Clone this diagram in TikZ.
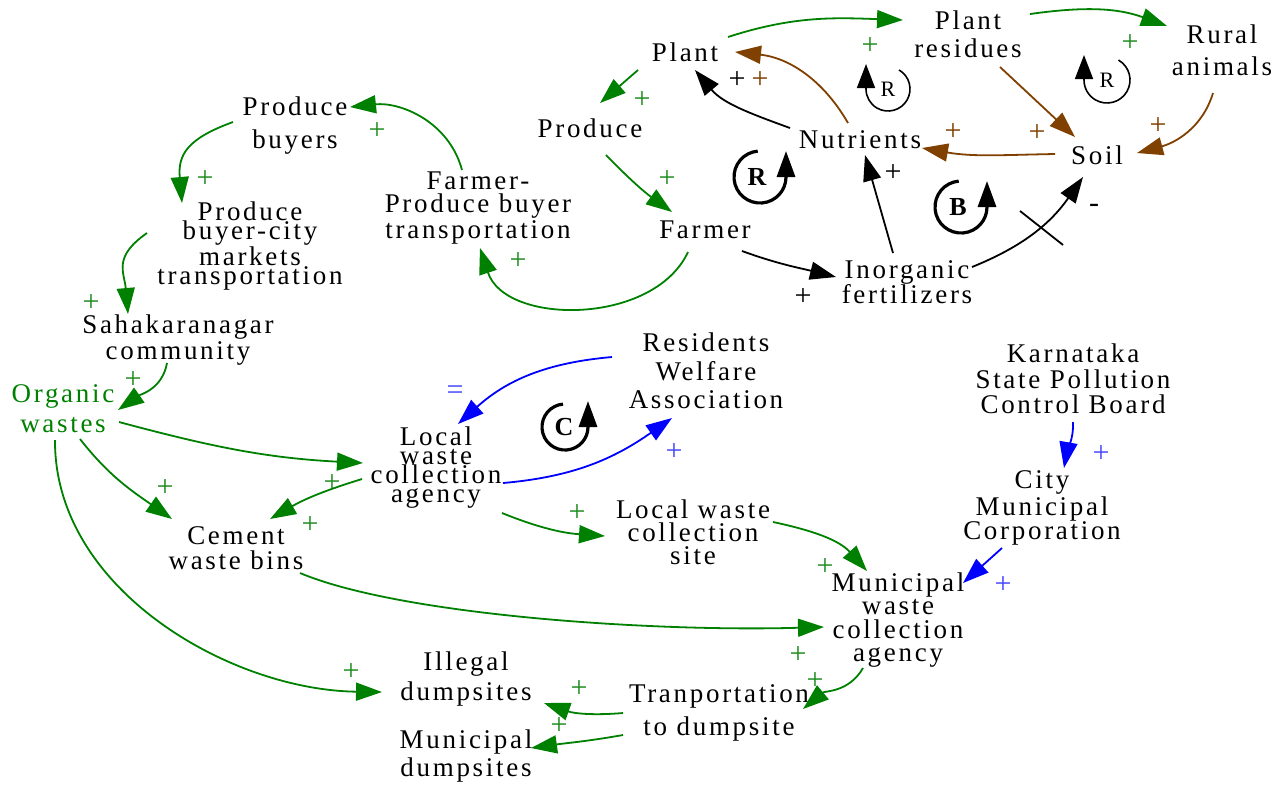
\documentclass[tikz,border=0pt]{standalone}
\usepackage{fontspec}
\setmainfont{Liberation Serif}[LetterSpace=10]
\usetikzlibrary{arrows.meta,calc}

\definecolor{cldgreen}{RGB}{0,128,0}
\definecolor{cldbrown}{RGB}{128,64,0}
\definecolor{cldblue}{RGB}{0,0,255}
\definecolor{signblue}{RGB}{70,70,255}
\definecolor{signgreen}{RGB}{30,140,30}

\tikzset{
  var/.style={align=center, inner sep=0pt, font=\fontsize{13.5}{#1}\selectfont},
  var/.default=14,
  link/.style={-{Triangle[length=13pt,width=9pt]}, line width=0.9pt},
  glink/.style={link, draw=cldgreen},
  klink/.style={link, draw=black},
  blink/.style={link, draw=cldbrown},
  ulink/.style={link, draw=cldblue},
  sign/.style={inner sep=0pt, font=\fontsize{15}{15}\selectfont},
  gsign/.style={sign, text=signgreen},
  ksign/.style={sign, text=black},
  bsign/.style={sign, text=cldbrown},
  usign/.style={sign, text=signblue},
  loopthin/.style={line width=0.8pt, -{Triangle[length=12pt,width=9pt]}},
  loopbold/.style={line width=1.6pt, -{Triangle[length=13pt,width=9pt]}},
}

\begin{document}
\begin{tikzpicture}[x=0.5pt, y=0.5pt]
\useasboundingbox (0,0) rectangle (1288,-784);

% ---------- variables ----------
\node[var] (plant) at (685,-52) {Plant};
\node[var=14] (residues) at (968,-34) {Plant\\residues};
\node[var=16] (rural) at (1222,-50) {Rural\\animals};
\node[var] (produce) at (590,-128) {Produce};
\node[var] (nutrients) at (860,-140) {Nutrients};
\node[var] (soil) at (1097,-155) {Soil};
\node[var] (farmer) at (705,-230) {Farmer};
\node[var=12.5] (inorg) at (907,-282) {Inorganic\\fertilizers};
\node[var=16.5] (pbuyers) at (295,-126) {Produce\\buyers};
\node[var=11.25] (fptrans) at (478,-208) {Farmer-\\Produce buyer\\transportation};
\node[var=9.5] (pbcity) at (250,-246) {Produce\\buyer-city\\markets\\transportation};
\node[var=10] (sahak) at (178,-340) {Sahakaranagar\\community};
\node[var=15, text=cldgreen] (organic) at (63,-409) {Organic\\wastes};
\node[var=14.25] (rwa) at (706,-371) {Residents\\Welfare\\Association};
\node[var=9.5] (lwca) at (436,-468) {Local\\waste\\collection\\agency};
\node[var=12.75] (kspcb) at (1073,-379) {Karnataka\\State Pollution\\Control Board};
\node[var=12.25] (cmc) at (1042,-508) {City\\Municipal\\Corporation};
\node[var=12.5] (cement) at (236,-548) {Cement\\waste bins};
\node[var=11.5] (lwcs) at (693,-532) {Local waste\\collection\\site};
\node[var=11.7] (mwca) at (898,-620) {Municipal\\waste\\collection\\agency};
\node[var=15] (illegal) at (466,-679) {Illegal\\dumpsites};
\node[var=16.5] (tranp) at (719,-713) {Tranportation\\to dumpsite};
\node[var=14] (mdump) at (466,-756) {Municipal\\dumpsites};

% ---------- green links ----------
\draw[glink] ($(plant)+(43,15)$) to[out=18,in=178] ($(residues)+(-65,14)$);
\draw[glink] ($(residues)+(62,20)$) to[out=8,in=160] ($(rural)+(-55,24)$);
\draw[glink] ($(plant)+(-47,-18)$) -- ($(produce)+(10,25)$);
\draw[glink] ($(produce)+(16,-27)$) to[bend right=5] ($(farmer)+(-33,18)$);
\draw[glink] ($(farmer)+(-17,-22)$) to[out=-115,in=-72] ($(fptrans)+(2,-40)$);
\draw[glink] ($(fptrans)+(-16,38)$) to[out=105,in=6] ($(pbuyers)+(55,19)$);
\draw[glink] ($(pbuyers)+(-62,4)$) to[out=200,in=95,looseness=1.3] ($(pbcity)+(-68,43)$);
\draw[glink] ($(pbcity)+(-103,13)$) to[out=215,in=95,looseness=1.3] ($(sahak)+(-50,26)$);
\draw[glink] ($(sahak)+(-11,-23)$) to[out=260,in=35] ($(organic)+(55,-1)$);
\draw[glink] ($(organic)+(56,-13)$) to[out=-15,in=177] ($(lwca)+(-73,5)$);
\draw[glink] ($(organic)+(17,-30)$) to[out=-52,in=145] ($(cement)+(-64,29)$);
\draw[glink] ($(lwca)+(-74,-11)$) to[out=197,in=30] ($(cement)+(34,29)$);
\draw[glink] ($(organic)+(-8,-31)$) .. controls ($(organic)+(-9,-180)$) and ($(illegal)+(-236,-11)$) .. ($(illegal)+(-84,-13)$);
\draw[glink] ($(lwca)+(66,-45)$) to[out=-22,in=176] ($(lwcs)+(-88,-4)$);
\draw[glink] ($(lwcs)+(80,10)$) to[out=-12,in=132] ($(mwca)+(-31,49)$);
\draw[glink] ($(cement)+(64,-25)$) .. controls ($(cement)+(164,-67)$) and ($(mwca)+(-248,-12)$) .. ($(mwca)+(-74,-7)$);
\draw[glink] ($(mwca)+(-35,-48)$) to[out=240,in=40] ($(tranp)+(84,4)$);
\draw[glink] ($(tranp)+(-96,0)$) to[bend left=12] ($(illegal)+(78,-24)$);
\draw[glink] ($(tranp)+(-96,-22)$) to[out=190,in=8] ($(mdump)+(65,8)$);

% ---------- black links ----------
\draw[klink] ($(nutrients)+(-70,12)$) to[out=160,in=-50] ($(plant)+(10,-18)$);
\draw[klink] ($(farmer)+(37,-21)$) to[out=-20,in=166] ($(inorg)+(-71,5)$);
\draw[klink] ($(inorg)+(-14,29)$) -- ($(nutrients)+(5,-15)$);
\draw[klink] ($(inorg)+(65,15)$) to[out=22,in=-125] coordinate[pos=0.55] (delay) ($(soil)+(-14,-22)$);
\draw[line width=0.9pt] ($(delay)+(-20,16)$) -- ($(delay)+(23,-18)$);

% ---------- brown links ----------
\draw[blink] ($(nutrients)+(-12,17)$) to[out=120,in=-6] ($(plant)+(50,0)$);
\draw[blink] ($(residues)+(32,-33)$) -- ($(soil)+(-22,18)$);
\draw[blink] ($(rural)+(-9,-43)$) to[out=253,in=15] ($(soil)+(40,2)$);
\draw[blink] ($(soil)+(-42,1)$) to[out=181,in=-10] ($(nutrients)+(62,-8)$);

% ---------- blue links ----------
\draw[ulink] ($(rwa)+(-94,14)$) to[out=185,in=42] ($(lwca)+(22,44)$);
\draw[ulink] ($(lwca)+(67,-15)$) to[out=5,in=215] ($(rwa)+(-34,-47)$);
\draw[ulink] ($(kspcb)+(0,-43)$) to[out=-88,in=80] ($(cmc)+(22,40)$);
\draw[ulink] ($(cmc)+(-40,-40)$) -- ($(mwca)+(65,37)$);

% ---------- polarity signs ----------
\node[gsign] (g1) at (870,-46) {+};
\node[gsign] (g2) at (1130,-43) {+};
\node[gsign] (g3) at (642,-100) {+};
\node[gsign] (g4) at (667,-179) {+};
\node[gsign] (g5) at (518,-261) {+};
\node[gsign] (g6) at (377,-131) {+};
\node[gsign] (g7) at (205,-179) {+};
\node[gsign] (g8) at (91,-303) {+};
\node[gsign] (g9) at (133,-380) {+};
\node[gsign] (g10) at (332,-483) {+};
\node[gsign] (g11) at (165,-488) {+};
\node[gsign] (g12) at (310,-525) {+};
\node[gsign] (g13) at (351,-672) {+};
\node[gsign] (g14) at (577,-513) {+};
\node[gsign] (g15) at (825,-567) {+};
\node[gsign] (g16) at (798,-655) {+};
\node[gsign] (g17) at (815,-681) {+};
\node[gsign] (g18) at (579,-689) {+};
\node[gsign] (g19) at (559,-726) {+};
\node[ksign] (k1) at (737,-80) {+};
\node[ksign] (k2) at (803,-297) {+};
\node[ksign] (k3) at (893,-173) {+};
\node[ksign] (k4) at (1094,-208) {-};
\node[bsign] (b1) at (760,-80) {+};
\node[bsign] (b2) at (953,-132) {+};
\node[bsign] (b3) at (1037,-133) {+};
\node[bsign] (b4) at (1158,-126) {+};
\node[usign] (u1) at (455,-393) {=};
\node[usign] (u2) at (674,-452) {+};
\node[usign] (u3) at (1101,-454) {+};
\node[usign] (u4) at (1003,-585) {+};

% ---------- loop markers ----------
\begin{scope}[shift={(888,-89)}]
  \draw[loopthin] (60:22) arc[start angle=60, end angle=-180, radius=22] -- ++(0,25);
  \node[font=\fontsize{11}{11}\selectfont] (loopr1) at (0,0) {R};
\end{scope}
\begin{scope}[shift={(1107,-80)}]
  \draw[loopthin] (60:23) arc[start angle=60, end angle=-180, radius=23] -- ++(0,25);
  \node[font=\fontsize{11}{11}\selectfont] (loopr2) at (0,0) {R};
\end{scope}
\begin{scope}[shift={(760,-177)}]
  \draw[loopbold] (95:26) arc[start angle=95, end angle=360, radius=26] -- ++(0,26);
  \node[font=\fontsize{13}{13}\bfseries] (loopr3) at (-3,0) {R};
\end{scope}
\begin{scope}[shift={(961,-207)}]
  \draw[loopbold] (95:26) arc[start angle=95, end angle=360, radius=26] -- ++(0,26);
  \node[font=\fontsize{13}{13}\bfseries] (loopb) at (-3,0) {B};
\end{scope}
\begin{scope}[shift={(565,-427)}]
  \draw[loopbold] (95:23) arc[start angle=95, end angle=360, radius=23] -- ++(0,26);
  \node[font=\fontsize{13}{13}\bfseries] (loopc) at (-1,0) {C};
\end{scope}
\end{tikzpicture}
\end{document}
